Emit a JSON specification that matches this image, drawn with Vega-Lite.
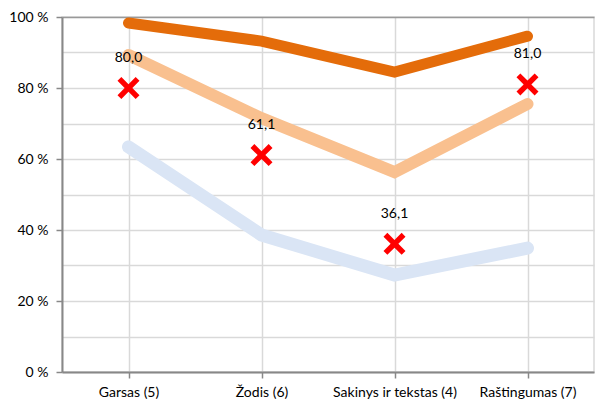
{
  "$schema": "https://vega.github.io/schema/vega-lite/v6.json",
  "autosize": "none",
  "width": 532,
  "height": 355,
  "padding": {"left": 62, "top": 17, "right": 1, "bottom": 29},
  "background": "white",
  "config": {
    "locale": {"number": {"decimal": ",", "thousands": " ", "grouping": [3], "currency": ["", " €"]}},
    "view": {"stroke": "#d9d9d9", "strokeWidth": 1.5},
    "font": "Lato"
  },
  "datasets": {
    "lines": [
      {"kategorija": "Garsas (5)", "serija": "Aukštas", "reiksme": 98.3},
      {"kategorija": "Žodis (6)", "serija": "Aukštas", "reiksme": 93.2},
      {"kategorija": "Sakinys ir tekstas (4)", "serija": "Aukštas", "reiksme": 84.5},
      {"kategorija": "Raštingumas (7)", "serija": "Aukštas", "reiksme": 94.6},
      {"kategorija": "Garsas (5)", "serija": "Vidutinis", "reiksme": 89.3},
      {"kategorija": "Žodis (6)", "serija": "Vidutinis", "reiksme": 71.5},
      {"kategorija": "Sakinys ir tekstas (4)", "serija": "Vidutinis", "reiksme": 56.3},
      {"kategorija": "Raštingumas (7)", "serija": "Vidutinis", "reiksme": 75.5},
      {"kategorija": "Garsas (5)", "serija": "Žemas", "reiksme": 63.4},
      {"kategorija": "Žodis (6)", "serija": "Žemas", "reiksme": 38.6},
      {"kategorija": "Sakinys ir tekstas (4)", "serija": "Žemas", "reiksme": 27.3},
      {"kategorija": "Raštingumas (7)", "serija": "Žemas", "reiksme": 34.9}
    ],
    "marks": [
      {"kategorija": "Garsas (5)", "reiksme": 80.0},
      {"kategorija": "Žodis (6)", "reiksme": 61.1},
      {"kategorija": "Sakinys ir tekstas (4)", "reiksme": 36.1},
      {"kategorija": "Raštingumas (7)", "reiksme": 81.0}
    ]
  },
  "encoding": {
    "x": {
      "field": "kategorija",
      "type": "nominal",
      "sort": ["Garsas (5)", "Žodis (6)", "Sakinys ir tekstas (4)", "Raštingumas (7)"],
      "scale": {"domain": ["Garsas (5)", "Žodis (6)", "Sakinys ir tekstas (4)", "Raštingumas (7)"], "paddingInner": 0, "paddingOuter": 0},
      "axis": {
        "title": null,
        "labelAngle": 0,
        "bandPosition": 0,
        "grid": true,
        "gridColor": "#d9d9d9",
        "gridWidth": 1.5,
        "domainColor": "#888888",
        "domainWidth": 2,
        "tickColor": "#888888",
        "tickSize": 6,
        "tickWidth": 1.5,
        "labelFontSize": 14,
        "labelColor": "#000000",
        "labelPadding": 7,
        "labelFont": "Lato"
      }
    },
    "y": {
      "field": "reiksme",
      "type": "quantitative",
      "scale": {"domain": [0, 100], "nice": false},
      "axis": {
        "title": null,
        "values": [0, 10, 20, 30, 40, 50, 60, 70, 80, 90, 100],
        "labelExpr": "datum.value % 20 === 0 ? datum.value + ' %' : ''",
        "grid": true,
        "gridColor": {"condition": {"test": "datum.value === 100", "value": "#999999"}, "value": "#d9d9d9"},
        "gridWidth": 1.5,
        "tickOpacity": {"condition": {"test": "datum.value % 20 === 0", "value": 1}, "value": 0},
        "domainColor": "#888888",
        "domainWidth": 2,
        "tickColor": "#888888",
        "tickSize": 6,
        "tickWidth": 1.5,
        "labelFontSize": 14,
        "labelColor": "#000000",
        "labelPadding": 8,
        "labelFont": "Lato"
      }
    }
  },
  "layer": [
    {
      "data": {"name": "lines"},
      "transform": [{"filter": "datum.serija === 'Žemas'"}],
      "mark": {"type": "line", "color": "#dae5f5", "strokeWidth": 13, "strokeCap": "round", "strokeJoin": "miter"}
    },
    {
      "data": {"name": "lines"},
      "transform": [{"filter": "datum.serija === 'Vidutinis'"}],
      "mark": {"type": "line", "color": "#f9c08f", "strokeWidth": 12, "strokeCap": "round", "strokeJoin": "miter"}
    },
    {
      "data": {"name": "lines"},
      "transform": [{"filter": "datum.serija === 'Aukštas'"}],
      "mark": {"type": "line", "color": "#e46c0a", "strokeWidth": 11, "strokeCap": "round", "strokeJoin": "miter"}
    },
    {
      "data": {"name": "marks"},
      "mark": {
        "type": "point",
        "shape": "M-0.65,-1L0,-0.35L0.65,-1L1,-0.65L0.35,0L1,0.65L0.65,1L0,0.35L-0.65,1L-1,0.65L-0.35,0L-1,-0.65Z",
        "size": 484,
        "filled": true,
        "color": "#ff0000",
        "opacity": 1
      }
    },
    {
      "data": {"name": "marks"},
      "mark": {"type": "text", "dy": -30, "fontSize": 14, "color": "#000000", "font": "Lato"},
      "encoding": {"text": {"field": "reiksme", "type": "quantitative", "format": ".1f"}}
    }
  ]
}
